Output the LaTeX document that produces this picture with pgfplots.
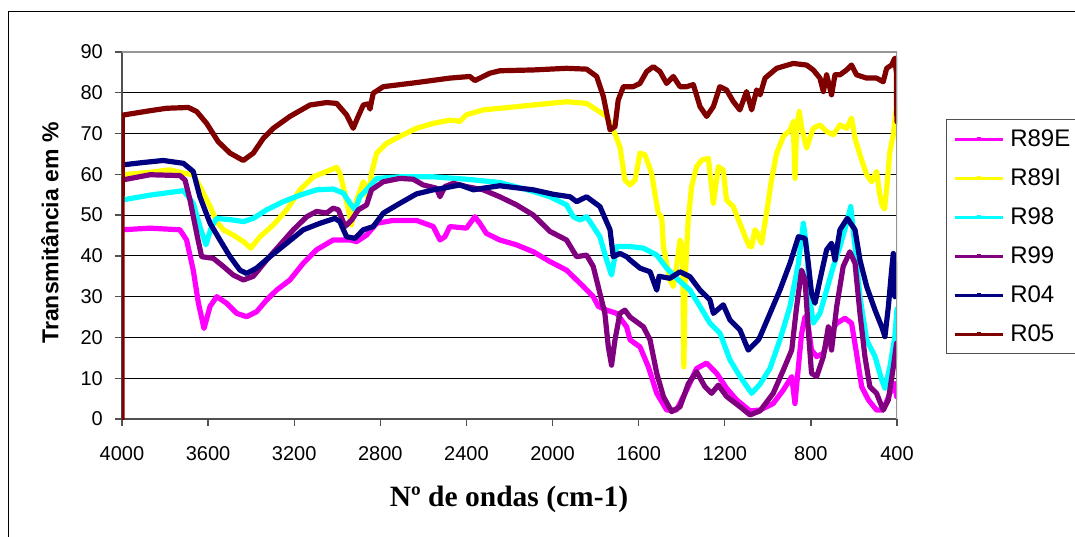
\documentclass[border=0pt]{standalone}
\usepackage{fontspec}
\setmainfont{Liberation Sans}
\newfontfamily\timesfont{Liberation Serif}
\usepackage{pgfplots}
\pgfplotsset{compat=1.18}

\definecolor{cR89E}{RGB}{255,0,255}
\definecolor{cR89I}{RGB}{255,255,0}
\definecolor{cR98}{RGB}{0,255,255}
\definecolor{cR99}{RGB}{128,0,128}
\definecolor{cR04}{RGB}{0,0,128}
\definecolor{cR05}{RGB}{128,0,0}
\definecolor{axisgray}{RGB}{80,80,80}
\definecolor{framegray}{RGB}{150,150,150}

\begin{document}
\begin{tikzpicture}[x=1pt,y=1pt]
\useasboundingbox (0,0) rectangle (1075,536);
% chart frame
\draw[black, line width=1.3pt] (8.3,-2) -- (8.3,524.3) -- (1080,524.3);

\begin{axis}[
  at={(122pt,117pt)}, anchor=south west,
  scale only axis, width=775pt, height=367pt,
  xmin=400, xmax=4000, x dir=reverse,
  ymin=0, ymax=90,
  xtick={400,800,...,4000},
  ytick={0,10,...,90},
  /pgf/number format/.cd, 1000 sep={}, assume math mode=true,
  /pgfplots/.cd,
  axis x line*=bottom, axis y line*=left,
  axis line style={-, draw=axisgray, line width=1.4pt},
  tick align=outside, major tick length=7pt,
  tick style={draw=axisgray, line width=1.3pt},
  ticklabel style={font=\fontsize{20}{24}\selectfont},
  xticklabel style={inner sep=0pt, anchor=north, yshift=-20pt},
  yticklabel style={inner sep=0pt, anchor=east, xshift=-12pt},
  ymajorgrids, grid style={black, line width=1pt},
  every axis plot/.append style={line width=5.2pt, line join=round, line cap=round},
  legend image code/.code={
    \draw[#1, line width=2.7pt, line cap=butt] (0pt,0pt) -- (48pt,0pt);
    \fill[#1, draw=none] (22pt,-2.2pt) rectangle (26.4pt,2.2pt);
  },
  legend cell align=left,
  legend style={
    at={(axis description cs:1.0628,0.8174)}, anchor=north west,
    draw=axisgray, line width=1.3pt, fill=white,
    inner xsep=7.3pt, inner ysep=0pt, row sep=0pt,
    font=\fontsize{24}{28}\selectfont,
    nodes={inner sep=0pt, minimum height=39pt},
    /tikz/every odd column/.append style={column sep=6pt},
  },
]

% R89E
\addplot[color=cR89E] coordinates {
(4000,46.4) (3870,46.8) (3731,46.4) (3700,43.9) (3669,36.5) (3645,28.4) (3619,22.2)
(3591,27.6) (3560,30.0) (3514,28.4) (3467,25.9) (3421,25.1) (3375,26.3) (3328,29.2)
(3282,31.6) (3220,34.1) (3158,38.2) (3096,41.5) (3019,43.9) (2941,43.9) (2910,43.5)
(2864,45.1) (2817,48.0) (2740,48.7) (2632,48.7) (2554,47.2) (2523,43.9) (2500,44.7)
(2477,47.2) (2400,46.8) (2361,49.6) (2338,48.0) (2307,45.5) (2245,43.9) (2167,42.7)
(2089,41.0) (2012,38.6) (1935,36.5) (1857,32.5) (1811,30.0) (1787,27.6) (1749,26.7)
(1702,25.9) (1656,22.6) (1640,19.4) (1594,17.7) (1555,12.8) (1516,6.3) (1470,2.2)
(1424,2.2) (1377,7.1) (1331,12.4) (1284,13.7) (1238,11.2) (1191,7.5) (1145,4.7)
(1083,2.0) (1036,2.2) (975,3.8) (928,7.1) (889,10.4) (874,3.8) (858,12.8) (843,21.0)
(827,25.1) (812,22.6) (797,16.9) (773,15.3) (742,16.1) (711,21.0) (680,23.5)
(642,24.7) (611,23.5) (588,16.1) (564,7.9) (533,4.7) (495,2.2) (464,2.2) (433,6.3)
(410,8.7) (402,5.5)
};
\addlegendentry{R89E}

% R89I
\addplot[color=cR89I] coordinates {
(4000,59.9) (3870,60.5) (3777,61.1) (3715,60.3) (3669,59.9) (3638,57.0) (3591,52.1)
(3560,48.4) (3529,46.4) (3483,45.1) (3436,43.5) (3402,41.9) (3359,44.7) (3297,47.6)
(3235,51.3) (3173,56.2) (3111,59.4) (3050,60.7) (3003,61.7) (2988,60.3) (2965,55.4)
(2934,47.6) (2910,53.7) (2879,58.2) (2864,56.6) (2856,53.7) (2841,60.3) (2817,65.2)
(2771,67.6) (2709,69.3) (2632,71.3) (2554,72.5) (2477,73.3) (2430,73.0) (2400,74.6)
(2322,75.8) (2245,76.2) (2089,77.0) (1935,77.8) (1842,77.4) (1795,75.8) (1749,74.2)
(1718,70.9) (1687,66.8) (1664,58.6) (1640,57.4) (1617,58.6) (1594,65.2) (1571,64.8)
(1540,60.3) (1525,55.4) (1509,50.5) (1493,49.5) (1485,42.3) (1470,38.2) (1455,34.1)
(1439,32.5) (1424,37.4) (1408,43.9) (1396,42.3) (1390,12.8) (1384,34.0) (1370,48.8)
(1354,57.0) (1331,61.9) (1307,63.5) (1276,63.9) (1253,52.9) (1230,61.9) (1207,61.0)
(1192,53.7) (1161,52.1) (1130,48.0) (1099,43.9) (1085,42.3) (1075,42.3) (1060,46.4)
(1052,45.9) (1037,43.9) (1029,43.1) (1006,50.5) (983,58.6) (959,65.2) (928,69.3)
(897,70.8) (882,72.9) (874,59.0) (866,72.0) (854,75.4) (843,71.5) (820,66.4)
(789,71.3) (758,72.1) (727,70.5) (696,69.7) (665,72.1) (634,71.3) (611,73.8)
(595,68.8) (572,64.8) (541,59.9) (518,58.2) (495,60.7) (480,55.0) (470,52.5)
(458,51.5) (447,57.0) (433,65.6) (417,69.7) (402,77.0)
};
\addlegendentry{R89I}

% R98
\addplot[color=cR98] coordinates {
(4000,53.7) (3870,54.9) (3715,56.0) (3692,54.5) (3669,52.9) (3638,47.2) (3610,42.7)
(3584,47.2) (3560,49.2) (3483,48.8) (3436,48.4) (3390,49.2) (3328,51.3) (3251,53.3)
(3173,54.9) (3096,56.2) (3019,56.4) (2972,55.4) (2941,52.9) (2918,51.3) (2895,54.5)
(2864,56.2) (2817,59.0) (2709,59.4) (2554,59.4) (2400,58.8) (2245,58.0) (2089,55.8)
(2012,54.5) (1935,52.5) (1904,49.6) (1873,48.8) (1842,49.6) (1811,47.2) (1780,44.7)
(1749,39.0) (1726,35.3) (1702,42.3) (1671,42.3) (1640,42.3) (1578,41.9) (1516,40.2)
(1470,37.0) (1424,34.5) (1362,31.6) (1315,27.6) (1269,23.5) (1222,21.0) (1176,14.5)
(1129,10.4) (1075,6.3) (1037,8.5) (990,12.4) (944,19.4) (897,27.6) (858,38.2)
(835,48.0) (820,42.3) (804,29.2) (789,23.5) (758,25.9) (727,31.6) (696,37.4)
(665,42.3) (634,48.0) (615,52.1) (595,42.3) (572,30.0) (541,19.4) (502,15.3)
(471,9.6) (456,7.5) (433,12.8) (410,20.2) (400,27.0)
};
\addlegendentry{R98}

% R99
\addplot[color=cR99] coordinates {
(4000,58.6) (3870,59.9) (3731,59.7) (3707,58.6) (3684,53.7) (3653,45.5) (3630,39.8)
(3576,39.4) (3529,37.4) (3483,35.3) (3436,34.1) (3390,35.0) (3328,39.0) (3266,42.7)
(3204,46.4) (3142,49.6) (3096,50.9) (3050,50.5) (3019,51.7) (2995,51.3) (2964,47.2)
(2933,48.8) (2902,51.3) (2864,52.5) (2841,56.2) (2786,58.2) (2709,59.0) (2647,58.8)
(2601,57.4) (2539,56.6) (2523,54.5) (2500,57.0) (2461,57.8) (2400,57.0) (2322,56.2)
(2245,54.5) (2167,52.5) (2089,50.0) (2012,46.0) (1935,43.9) (1888,39.8) (1842,40.2)
(1811,37.4) (1780,30.8) (1757,25.9) (1741,17.7) (1726,13.2) (1710,19.4) (1687,25.9)
(1664,26.7) (1640,25.0) (1578,22.6) (1547,19.4) (1516,11.2) (1485,5.5) (1447,1.8)
(1408,3.0) (1369,8.7) (1331,11.6) (1292,7.9) (1261,6.3) (1230,8.3) (1191,5.5)
(1129,3.0) (1083,1.0) (1036,2.0) (975,6.3) (928,12.0) (889,16.9) (866,27.6)
(843,36.5) (827,34.1) (812,21.8) (797,11.2) (773,10.4) (742,15.3) (719,22.6)
(704,16.9) (680,27.6) (650,37.4) (619,41.0) (595,38.2) (572,25.9) (549,15.3)
(526,7.9) (495,6.3) (464,2.2) (440,4.7) (417,12.8) (402,18.6)
};
\addlegendentry{R99}

% R04
\addplot[color=cR04] coordinates {
(4000,62.3) (3901,62.9) (3808,63.4) (3715,62.7) (3669,60.7) (3638,54.5) (3591,48.0)
(3545,43.9) (3498,39.8) (3452,36.5) (3421,35.7) (3375,37.0) (3313,39.8) (3235,43.1)
(3158,46.4) (3080,48.0) (3011,49.2) (2988,48.4) (2957,44.7) (2918,44.3) (2879,46.4)
(2833,47.2) (2786,50.5) (2709,52.9) (2632,55.2) (2554,56.2) (2508,56.6) (2430,57.4)
(2368,56.2) (2322,56.6) (2245,57.2) (2089,56.2) (1996,55.1) (1919,54.5) (1888,53.3)
(1842,54.5) (1780,52.1) (1733,46.4) (1718,39.8) (1687,40.6) (1656,39.8) (1640,39.0)
(1594,37.0) (1547,36.1) (1516,31.6) (1505,35.0) (1455,34.5) (1408,36.1) (1362,34.9)
(1315,31.6) (1269,29.2) (1253,25.9) (1207,28.0) (1176,24.3) (1129,21.8) (1091,16.9)
(1044,19.4) (1036,20.2) (990,25.9) (944,31.6) (897,38.2) (858,44.7) (827,44.3)
(812,38.2) (797,30.8) (781,28.4) (758,34.1) (727,41.5) (704,43.1) (688,39.0)
(665,46.4) (631,49.2) (595,46.4) (572,39.0) (541,32.5) (502,26.7) (471,22.6)
(456,20.2) (440,27.6) (425,36.5) (417,40.6) (410,30.0) (402,32.0) (400,38.0)
};
\addlegendentry{R04}

% R05
\addplot[color=cR05] coordinates {
(4000,0) (3999,74.5) (3870,75.6) (3793,76.2) (3692,76.4) (3653,75.4) (3607,72.5)
(3553,68.0) (3498,65.2) (3437,63.4) (3390,65.2) (3344,68.8) (3297,71.3) (3220,74.2)
(3127,77.0) (3050,77.6) (3003,77.4) (2957,74.6) (2926,71.3) (2903,74.2) (2879,77.0)
(2856,77.3) (2848,76.0) (2833,79.9) (2786,81.5) (2632,82.5) (2477,83.6) (2384,84.0)
(2361,83.0) (2322,84.0) (2291,84.8) (2245,85.4) (2089,85.6) (1935,86.0) (1842,85.8)
(1795,84.0) (1764,79.1) (1733,70.9) (1710,71.7) (1695,78.2) (1671,81.5) (1625,81.5)
(1594,82.3) (1563,85.2) (1532,86.4) (1501,85.2) (1470,82.3) (1439,84.0) (1408,81.5)
(1377,81.5) (1346,82.0) (1315,76.6) (1284,74.2) (1253,76.6) (1223,81.5) (1192,80.7)
(1161,77.9) (1130,75.8) (1099,80.3) (1075,75.8) (1052,80.7) (1036,79.5) (1013,83.6)
(959,86.0) (882,87.2) (820,86.8) (789,85.6) (758,83.6) (742,80.3) (727,84.4)
(704,79.5) (688,84.4) (665,84.4) (634,85.6) (611,86.8) (588,84.4) (541,83.6)
(495,83.6) (464,82.7) (448,86.0) (425,86.8) (410,88.5) (403,85.0) (402,77.0)
(400,72.9)
};
\addlegendentry{R05}

% plot area border (top and right)
\draw[framegray, line width=1.6pt] (rel axis cs:0,1) -- (rel axis cs:1,1) -- (rel axis cs:1,0);
\end{axis}

% axis titles
\node[rotate=90, font=\fontsize{23}{27}\selectfont\bfseries] at (50,303) {Transmitância em \%};
\node[anchor=base, font=\timesfont\fontsize{29.5}{34}\selectfont\bfseries] at (509,30) {Nº de ondas (cm-1)};
\end{tikzpicture}
\end{document}
